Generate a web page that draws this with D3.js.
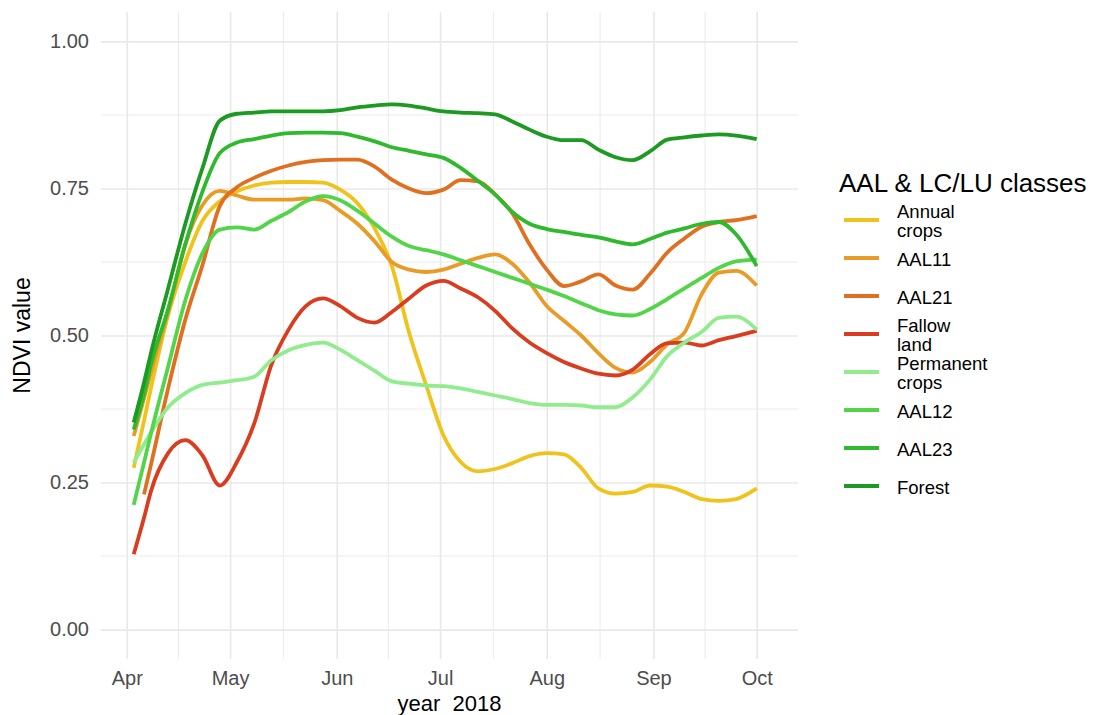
<!DOCTYPE html>
<html lang="en">
<head>
<meta charset="UTF-8" />
<script src="https://d3js.org/d3.v7.min.js"></script>
<title>NDVI 2018</title>
<style>
  body { margin: 0; background: #fff; }
  text { font-family: "Liberation Sans", Arial, sans-serif; }
  .tick text { fill: #4d4d4d; font-size: 20px; }
</style>
</head>
<body>

<svg id="ndvi-plot" width="1114" height="715"></svg>

<script>
// sampling dates shared by every class
const dates = [
  '2018-04-03', '2018-04-06', '2018-04-08', '2018-04-13', '2018-04-18', '2018-04-23', '2018-04-28',
  '2018-05-03', '2018-05-08', '2018-05-13', '2018-05-18', '2018-05-23', '2018-05-28',
  '2018-06-02', '2018-06-07', '2018-06-12', '2018-06-17', '2018-06-22', '2018-06-27',
  '2018-07-02', '2018-07-07', '2018-07-12', '2018-07-17', '2018-07-22', '2018-07-27',
  '2018-08-01', '2018-08-06', '2018-08-11', '2018-08-16', '2018-08-21', '2018-08-26', '2018-08-31',
  '2018-09-05', '2018-09-10', '2018-09-15', '2018-09-20', '2018-09-25', '2018-10-01'
];

const annualCrops = [.275,.355,.41,.535,.625,.695,.728,.745,.755,.760,.761,.761,.760,.748,.725,.682,.618,.505,.415,.330,
  .285,.269,.273,.283,.295,.300,.298,.275,.240,.231,.234,.245,.243,.234,.222,.219,.222,.240];
const aal11 = [.329,.393,.437,.54,.655,.722,.746,.738,.731,.731,.731,.733,.730,.712,.690,.660,.625,.612,.608,.612,
  .622,.632,.638,.622,.590,.550,.525,.500,.470,.445,.437,.455,.485,.505,.570,.607,.610,.585];
const aal21 = [null,.23,.28,.41,.527,.62,.72,.752,.768,.780,.789,.795,.798,.799,.799,.787,.765,.750,.742,.748,
  .764,.762,.740,.708,.655,.612,.584,.592,.604,.585,.578,.605,.641,.665,.685,.693,.696,.703];
const fallowLand = [.128,.190,.235,.300,.322,.296,.245,.285,.350,.450,.510,.550,.563,.550,.530,.522,.540,.563,.585,.593,
  .580,.565,.542,.512,.488,.470,.455,.444,.435,.432,.442,.468,.487,.488,.483,.492,.499,.508];
const permanentCrops = [.284,.315,.335,.378,.402,.416,.420,.424,.430,.458,.475,.484,.488,.476,.458,.440,.422,.418,.415,.414,
  .410,.404,.398,.392,.385,.382,.382,.381,.378,.378,.395,.425,.465,.488,.506,.530,.532,.510];
const aal12 = [.212,.284,.333,.447,.56,.64,.68,.684,.680,.695,.710,.728,.737,.730,.712,.690,.668,.652,.645,.638,
  .628,.618,.608,.598,.588,.578,.567,.555,.543,.536,.534,.545,.562,.580,.598,.615,.626,.629];
const aal23 = [.34,.40,.45,.545,.655,.745,.81,.828,.834,.840,.844,.845,.845,.844,.838,.830,.820,.814,.808,.802,
  .785,.763,.740,.710,.690,.681,.676,.671,.667,.660,.655,.664,.675,.682,.690,.693,.672,.618];
const forest = [.352,.42,.47,.58,.69,.785,.865,.877,.879,.881,.881,.881,.881,.883,.888,.891,.893,.891,.886,.881,
  .879,.878,.876,.864,.850,.838,.832,.832,.816,.803,.798,.813,.833,.837,.840,.842,.840,.834];

const classNames = ['Annual crops', 'AAL11', 'AAL21', 'Fallow land', 'Permanent crops', 'AAL12', 'AAL23', 'Forest'];
const classValues = [annualCrops, aal11, aal21, fallowLand, permanentCrops, aal12, aal23, forest];
const classColors = ['#efc31c', '#e89c27', '#e0701f', '#d93c1f', '#90ec8c', '#52d548', '#2fb92c', '#1c9a22'];

const yTicks = [0, 0.25, 0.5, 0.75, 1];

const svg = d3.select('#ndvi-plot');
const parseDate = d3.utcParse('%Y-%m-%d');

const render = () => {
  const panel = { left: 101, right: 798, top: 12, bottom: 659 };
  const innerWidth = panel.right - panel.left;
  const innerHeight = panel.bottom - panel.top;

  const xScale = d3.scaleUtc()
    .domain([d3.isoParse('2018-03-24T12:00:00Z'), d3.isoParse('2018-10-13T00:00:00Z')])
    .range([panel.left, panel.right]);

  const yScale = d3.scaleLinear()
    .domain([-0.05, 1.05])
    .range([panel.bottom, panel.top]);

  // minor grid first, majors on top
  const monthTicks = xScale.ticks(d3.utcMonth.every(1));
  const xMinor = d3.pairs(monthTicks).map(([a, b]) => new Date((+a + +b) / 2));
  const yMinor = d3.pairs(yTicks).map(([a, b]) => (a + b) / 2);

  svg.append('g').selectAll('line').data(xMinor)
    .enter().append('line')
    .attr('x1', d => xScale(d)).attr('x2', d => xScale(d))
    .attr('y1', panel.top).attr('y2', panel.bottom)
    .attr('stroke', '#ececec').attr('stroke-width', 1.1);

  svg.append('g').selectAll('line').data(yMinor)
    .enter().append('line')
    .attr('x1', panel.left).attr('x2', panel.right)
    .attr('y1', d => yScale(d)).attr('y2', d => yScale(d))
    .attr('stroke', '#ececec').attr('stroke-width', 1.1);

  const xAxis = d3.axisBottom(xScale)
    .ticks(d3.utcMonth.every(1))
    .tickFormat(d3.utcFormat('%b'))
    .tickSize(-innerHeight)
    .tickPadding(12);

  const yAxis = d3.axisLeft(yScale)
    .tickValues(yTicks)
    .tickFormat(d3.format('.2f'))
    .tickSize(-innerWidth)
    .tickPadding(12);

  const xAxisG = svg.append('g')
    .attr('transform', `translate(0,${panel.bottom})`)
    .call(xAxis);
  xAxisG.select('.domain').remove();

  const yAxisG = svg.append('g')
    .attr('transform', `translate(${panel.left},0)`)
    .call(yAxis);
  yAxisG.select('.domain').remove();

  svg.selectAll('.tick line').attr('stroke', '#e8e8e8').attr('stroke-width', 1.6);

  // lines
  const line = d3.line()
    .defined(d => d.value != null)
    .x(d => xScale(d.date))
    .y(d => yScale(d.value))
    .curve(d3.curveMonotoneX);

  const series = classNames.map((name, i) => ({
    name,
    color: classColors[i],
    points: dates.map((d, j) => ({ date: parseDate(d), value: classValues[i][j] }))
  }));

  svg.append('g').selectAll('path').data(series)
    .enter().append('path')
    .attr('d', d => line(d.points))
    .attr('fill', 'none')
    .attr('stroke', d => d.color)
    .attr('stroke-width', 3.8);

  // axis titles
  svg.append('text')
    .attr('x', (panel.left + panel.right) / 2)
    .attr('y', 711)
    .attr('text-anchor', 'middle')
    .style('font-size', '22px')
    .style('white-space', 'pre')
    .attr('fill', 'black')
    .text('year  2018');

  svg.append('text')
    .attr('transform', `translate(30,${(panel.top + panel.bottom) / 2}) rotate(-90)`)
    .attr('text-anchor', 'middle')
    .style('font-size', '23px')
    .attr('fill', 'black')
    .text('NDVI value');

  // legend
  const legend = svg.append('g').attr('transform', 'translate(839,0)');

  legend.append('text')
    .attr('x', 0)
    .attr('y', 192)
    .style('font-size', '26px')
    .attr('fill', 'black')
    .text('AAL & LC/LU classes');

  const item = legend.selectAll('.item').data(series)
    .enter().append('g')
    .attr('class', 'item')
    .attr('transform', (d, i) => `translate(0,${220 + i * 38})`);

  item.append('line')
    .attr('x1', 5).attr('x2', 40)
    .attr('stroke', d => d.color)
    .attr('stroke-width', 4);

  item.each(function (d) {
    const words = d.name.split(' ');
    const lh = 19;
    d3.select(this).selectAll('text').data(words)
      .enter().append('text')
      .attr('x', 58)
      .attr('y', (w, k) => (k - (words.length - 1) / 2) * lh + 1)
      .attr('dominant-baseline', 'central')
      .style('font-size', '18.5px')
      .attr('fill', 'black')
      .text(w => w);
  });
};

render();
</script>
</body>
</html>
